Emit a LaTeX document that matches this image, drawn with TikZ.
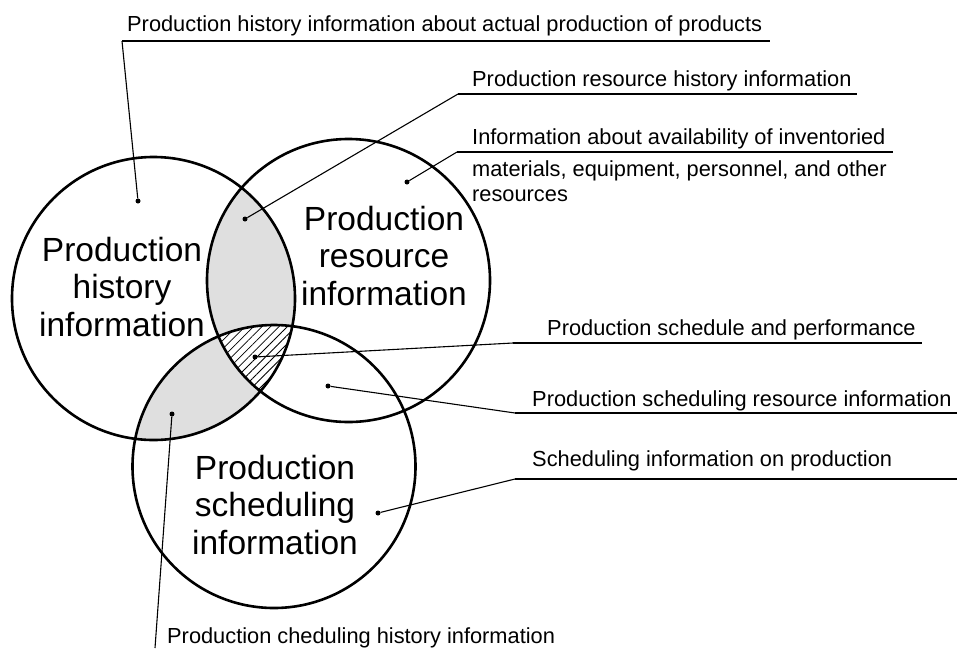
\documentclass[tikz,border=0pt]{standalone}
\usepackage{fontspec}
\setmainfont{Liberation Sans}
\usepackage{tikz}
\usetikzlibrary{patterns.meta}

\begin{document}
\begin{tikzpicture}[x=1pt,y=-1pt,
        bigtxt/.style={align=center,inner sep=0pt,font=\fontsize{33.5}{37.5}\selectfont},
        smalltxt/.style={anchor=base west,inner sep=0pt,font=\fontsize{21.8}{25}\selectfont},
        dot/.style={circle,fill=black,inner sep=0pt,minimum size=5pt},
        leader/.style={line width=1.1pt},
        uline/.style={line width=1.6pt},
        ring/.style={line width=2.6pt}]
                \useasboundingbox (0,0) rectangle (957,648);
                \def\rad{141.5}
                \coordinate (hist) at (153.5,298.5);
                \coordinate (res) at (348.5,280.5);
                \coordinate (sched) at (274,466.5);
                \begin{scope}
                    \clip (hist) circle (\rad);
                    \fill[gray!25] (res) circle (\rad);
                    \fill[gray!25] (sched) circle (\rad);
                    \clip (res) circle (\rad);
                    \fill[white] (sched) circle (\rad);
                    \fill[pattern={Lines[angle=45,distance=6pt,line width=0.8pt]}] (sched) circle (\rad);
                \end{scope}
                \draw[ring] (hist) circle (\rad) (res) circle (\rad) (sched) circle (\rad);
                \node[bigtxt] (histlbl) at (122,287) {Production\\history\\information};
                \node[bigtxt] (reslbl) at (384,256) {Production\\resource\\information};
                \node[bigtxt] (schedlbl) at (275,505) {Production\\scheduling\\information};

                \node[dot] (dhist) at (138,201) {};
                \coordinate (khist) at (122,41);
                \coordinate (ehist) at (770,41);
                \node[smalltxt] (thist) at (127,31) {Production history information about actual production of products};
                \draw[leader] (dhist) -- (khist);
                \draw[uline] (khist) -- (ehist);

                \node[dot] (dreshist) at (245,219) {};
                \coordinate (kreshist) at (458,94);
                \coordinate (ereshist) at (857,94);
                \node[smalltxt] (treshist) at (472,86) {Production resource history information};
                \draw[leader] (dreshist) -- (kreshist);
                \draw[uline] (kreshist) -- (ereshist);

                \node[dot] (dres) at (407,182) {};
                \coordinate (kres) at (457,152);
                \coordinate (eres) at (893,152);
                \node[smalltxt] (tres) at (472,144) {Information about availability of inventoried};
                \node[smalltxt] (tresb) at (472,176) {materials, equipment, personnel, and other};
                \node[smalltxt] (tresc) at (472,201) {resources};
                \draw[leader] (dres) -- (kres);
                \draw[uline] (kres) -- (eres);

                \node[dot] (dperf) at (255,357) {};
                \coordinate (kperf) at (513,343);
                \coordinate (eperf) at (922,343);
                \node[smalltxt] (tperf) at (547,335) {Production schedule and performance};
                \draw[leader] (dperf) -- (kperf);
                \draw[uline] (kperf) -- (eperf);

                \node[dot] (dschedres) at (328,386) {};
                \coordinate (kschedres) at (515,413);
                \coordinate (eschedres) at (957,413);
                \node[smalltxt] (tschedres) at (532,406) {Production scheduling resource information};
                \draw[leader] (dschedres) -- (kschedres);
                \draw[uline] (kschedres) -- (eschedres);

                \node[dot] (dsched) at (378,513) {};
                \coordinate (ksched) at (515,479);
                \coordinate (esched) at (957,479);
                \node[smalltxt] (tsched) at (532,466) {Scheduling information on production};
                \draw[leader] (dsched) -- (ksched);
                \draw[uline] (ksched) -- (esched);

                \node[dot] (dschedhist) at (172,414) {};
                \coordinate (kschedhist) at (155,648);
                \node[smalltxt] (tschedhist) at (167,643) {Production cheduling history information};
                \draw[leader] (dschedhist) -- (kschedhist);
            \end{tikzpicture}
\end{document}
